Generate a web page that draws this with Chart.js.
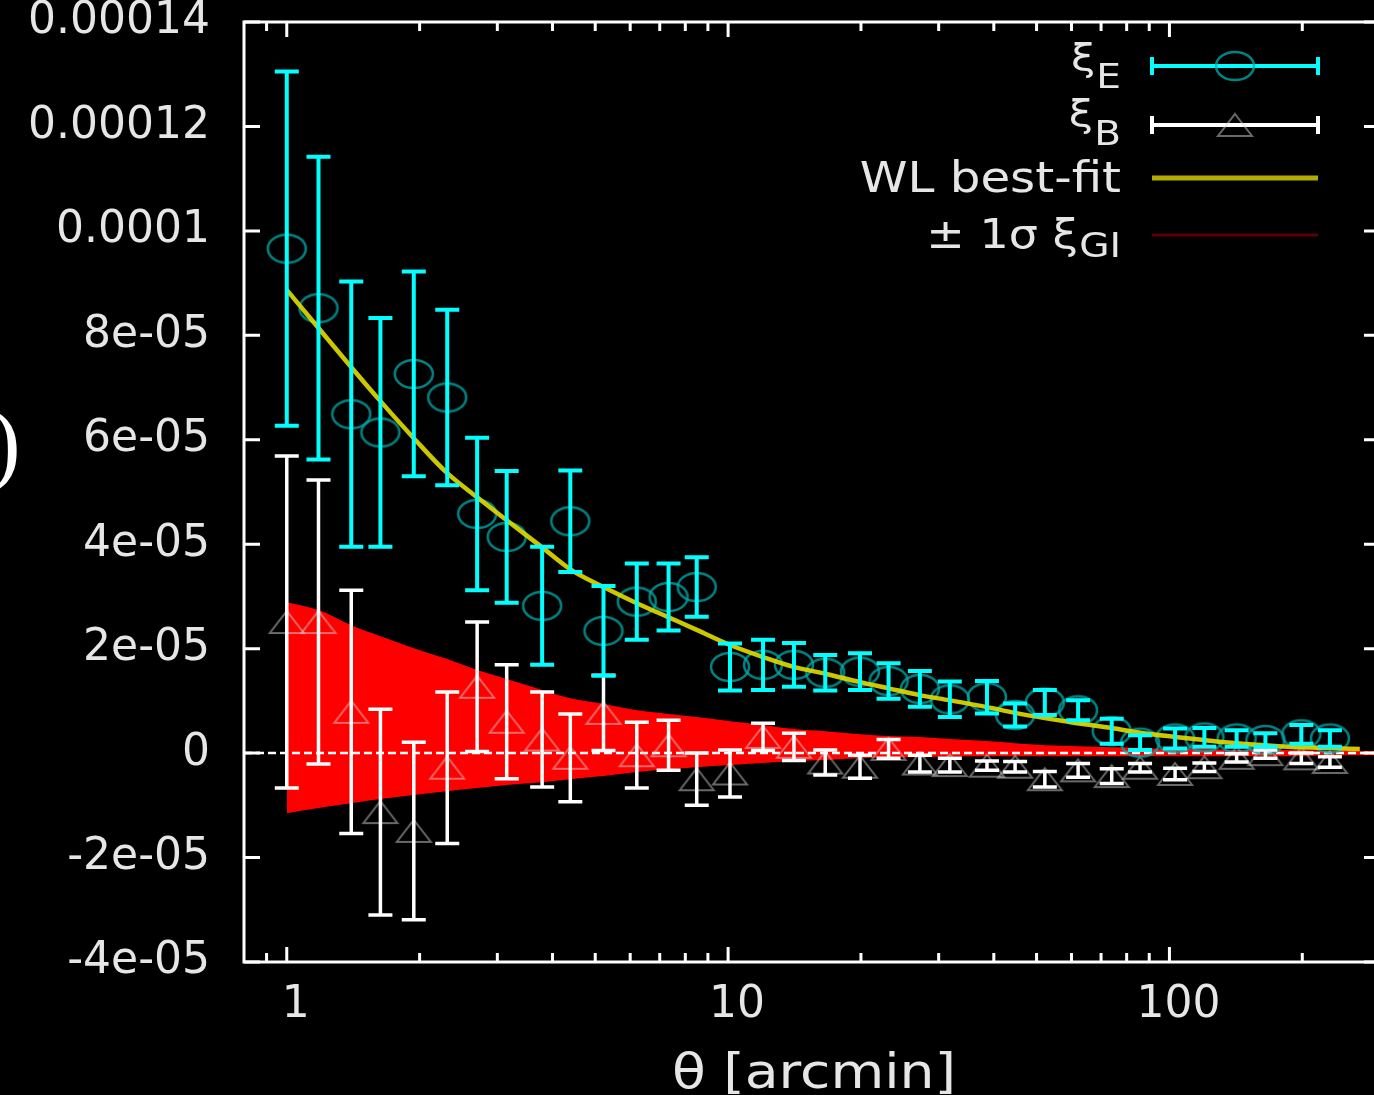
<!DOCTYPE html>
<html>
<head>
<meta charset="utf-8">
<script src="https://cdn.jsdelivr.net/npm/chart.js@4.4.1/dist/chart.umd.min.js"></script>
<style>
  html, body { margin: 0; padding: 0; background: #000; overflow: hidden; }
  #wrap { position: relative; width: 1392px; height: 1095px; }
</style>
</head>
<body>
<div id="wrap"><canvas id="xi"></canvas></div>
<script>
// angular bins [arcmin]
const theta = [1.00, 1.18, 1.40, 1.63, 1.94, 2.31, 2.70, 3.15, 3.79, 4.39,
    5.22, 6.21, 7.33, 8.49, 10.1, 12.0, 14.1, 16.6, 19.9, 23.1,
    27.2, 31.8, 38.6, 44.7, 52.2, 62.1, 74.0, 85.8, 103, 120,
    142, 165, 199, 231];

// E-mode shear correlation and its error
const xiE = [9.66e-5, 8.52e-5, 6.49e-5, 6.14e-5, 7.26e-5, 6.81e-5, 4.58e-5, 4.14e-5, 2.82e-5, 4.44e-5,
    2.34e-5, 2.90e-5, 2.99e-5, 3.18e-5, 1.65e-5, 1.69e-5, 1.69e-5, 1.54e-5, 1.56e-5, 1.38e-5,
    1.23e-5, 1.03e-5, 1.07e-5, 7.3e-6, 9.7e-6, 8.2e-6, 4.2e-6, 2.0e-6, 2.8e-6, 3.0e-6,
    2.8e-6, 2.5e-6, 3.6e-6, 2.8e-6];
const xiEErr = [3.39e-5, 2.90e-5, 2.54e-5, 2.19e-5, 1.96e-5, 1.68e-5, 1.46e-5, 1.26e-5, 1.13e-5, 9.7e-6,
    8.6e-6, 7.3e-6, 6.4e-6, 5.7e-6, 4.5e-6, 4.8e-6, 4.2e-6, 3.4e-6, 3.5e-6, 3.4e-6,
    3.4e-6, 3.4e-6, 3.1e-6, 2.2e-6, 2.4e-6, 1.9e-6, 2.4e-6, 1.4e-6, 1.9e-6, 1.8e-6,
    1.6e-6, 1.3e-6, 1.8e-6, 1.6e-6];

// B-mode shear correlation and its error
const xiB = [2.51e-5, 2.51e-5, 7.9e-6, -1.13e-5, -1.49e-5, -2.8e-6, 1.27e-5, 6.0e-6, 2.6e-6, -9e-7,
    7.7e-6, -4e-7, 1.5e-6, -5.0e-6, -3.9e-6, 3.1e-6, 1.2e-6, -1.8e-6, -2.6e-6, 8e-7,
    -2.0e-6, -2.3e-6, -2.4e-6, -2.6e-6, -5.0e-6, -3.3e-6, -4.4e-6, -2.8e-6, -4.0e-6, -2.7e-6,
    -9e-7, -2e-7, -1.0e-6, -1.7e-6];
const xiBErr = [3.18e-5, 2.72e-5, 2.33e-5, 1.97e-5, 1.70e-5, 1.45e-5, 1.24e-5, 1.09e-5, 9.1e-6, 8.4e-6,
    7.2e-6, 6.3e-6, 4.8e-6, 5.0e-6, 4.5e-6, 2.6e-6, 2.6e-6, 2.4e-6, 2.2e-6, 1.8e-6,
    1.6e-6, 1.3e-6, 9e-7, 1.0e-6, 1.5e-6, 1.3e-6, 1.4e-6, 8e-7, 1.1e-6, 8e-7,
    8e-7, 8e-7, 1.0e-6, 1.0e-6];

// weak-lensing best-fit model
const fitTheta = theta.concat([270]);
const fitXi = [8.87e-5, 8.14e-5, 7.39e-5, 6.74e-5, 6.03e-5, 5.36e-5, 4.90e-5, 4.46e-5, 3.94e-5, 3.52e-5,
    3.18e-5, 2.87e-5, 2.60e-5, 2.36e-5, 2.07e-5, 1.84e-5, 1.65e-5, 1.52e-5, 1.36e-5, 1.24e-5,
    1.11e-5, 1.01e-5, 8.8e-6, 7.7e-6, 6.7e-6, 5.7e-6, 4.8e-6, 3.9e-6, 3.1e-6, 2.5e-6,
    1.9e-6, 1.5e-6, 1.1e-6, 9.6e-7, 7.7e-7];

// +/- 1 sigma envelope of the GI term
const giTheta = theta.concat([300]);
const giUpper = [2.89e-5, 2.74e-5, 2.45e-5, 2.24e-5, 2.01e-5, 1.80e-5, 1.59e-5, 1.42e-5, 1.21e-5, 1.05e-5,
    9.4e-6, 8.2e-6, 7.5e-6, 6.9e-6, 6.1e-6, 5.4e-6, 4.6e-6, 4.2e-6, 3.6e-6, 3.3e-6,
    3.1e-6, 2.7e-6, 2.3e-6, 1.9e-6, 1.5e-6, 1.3e-6, 1.1e-6, 1.0e-6, 8e-7, 8e-7,
    6e-7, 6e-7, 6e-7, 4e-7, 4e-7];
const giLower = [-1.15e-5, -1.05e-5, -9.6e-6, -8.8e-6, -8.0e-6, -7.3e-6, -6.7e-6, -6.1e-6, -5.6e-6, -5.0e-6,
    -4.4e-6, -3.6e-6, -3.1e-6, -2.7e-6, -2.3e-6, -1.9e-6, -1.5e-6, -1.3e-6, -1.0e-6, -8e-7,
    -8e-7, -6e-7, -6e-7, -6e-7, -6e-7, -6e-7, -6e-7, -6e-7, -6e-7, -6e-7,
    -6e-7, -6e-7, -6e-7, -4e-7, -4e-7];

// axis ticks
const xTicks = [1, 10, 100];
const xTickLabels = ['1', '10', '100'];
const xMinorTicks = [0.9, 2, 3, 4, 5, 6, 7, 8, 9, 20, 30, 40, 50, 60, 70, 80, 90, 200];
const yTicks = [-4e-5, -2e-5, 0, 2e-5, 4e-5, 6e-5, 8e-5, 1e-4, 1.2e-4, 1.4e-4];
const yTickLabels = ['-4e-05', '-2e-05', '0', '2e-05', '4e-05', '6e-05', '8e-05', '0.0001', '0.00012', '0.00014'];


const FONT = '"DejaVu Sans", sans-serif';
const TEXT = '#e6e6e6';
const CYAN = '#00ffff';
const FIT = 'rgba(222, 216, 0, 0.92)';


function ringMarker() {
    const c = document.createElement('canvas');
    c.width = 46;
    c.height = 36;
    const g = c.getContext('2d');
    g.strokeStyle = 'rgba(0, 175, 175, 0.75)';
    g.lineWidth = 2.5;
    g.beginPath();
    g.ellipse(23, 18, 19, 14, 0, 0, Math.PI * 2);
    g.stroke();
    return c;
}

function triangleMarker() {
    const c = document.createElement('canvas');
    c.width = 42;
    c.height = 30;
    const g = c.getContext('2d');
    g.strokeStyle = 'rgba(210, 210, 210, 0.5)';
    g.lineWidth = 2;
    g.beginPath();
    g.moveTo(21, 4);
    g.lineTo(38, 26);
    g.lineTo(4, 26);
    g.closePath();
    g.stroke();
    return c;
}

const ring = ringMarker();
const tri = triangleMarker();


function errorBars(chart, values, errs, color, width) {
    const { ctx, scales: { x, y } } = chart;
    ctx.save();
    ctx.strokeStyle = color;
    ctx.lineWidth = width;
    theta.forEach((t, i) => {
        const px = x.getPixelForValue(t);
        const top = y.getPixelForValue(values[i] + errs[i]);
        const bot = y.getPixelForValue(values[i] - errs[i]);
        ctx.beginPath();
        ctx.moveTo(px, top);
        ctx.lineTo(px, bot);
        ctx.moveTo(px - 12, top);
        ctx.lineTo(px + 12, top);
        ctx.moveTo(px - 12, bot);
        ctx.lineTo(px + 12, bot);
        ctx.stroke();
    });
    ctx.restore();
}

// text drawn slightly wide, the way the terminal font renders
function wideText(ctx, text, x, y, size, align, sx = 1.15) {
    ctx.save();
    ctx.font = size + 'px ' + FONT;
    ctx.fillStyle = TEXT;
    ctx.textAlign = align;
    ctx.textBaseline = 'alphabetic';
    ctx.translate(x, y);
    ctx.scale(sx, 1);
    ctx.fillText(text, 0, 0);
    const w = ctx.measureText(text).width * sx;
    ctx.restore();
    return w;
}

function legendBar(ctx, y, color, marker) {
    const x1 = 1152, x2 = 1318;
    ctx.save();
    ctx.strokeStyle = color;
    ctx.lineWidth = 4;
    ctx.beginPath();
    ctx.moveTo(x1, y);
    ctx.lineTo(x2, y);
    ctx.moveTo(x1, y - 9);
    ctx.lineTo(x1, y + 9);
    ctx.moveTo(x2, y - 9);
    ctx.lineTo(x2, y + 9);
    ctx.stroke();
    ctx.drawImage(marker, (x1 + x2) / 2 - marker.width / 2, y - marker.height / 2);
    ctx.restore();
}

function legendLine(ctx, y, color, width) {
    ctx.save();
    ctx.strokeStyle = color;
    ctx.lineWidth = width;
    ctx.beginPath();
    ctx.moveTo(1152, y);
    ctx.lineTo(1318, y);
    ctx.stroke();
    ctx.restore();
}


const gnuplotFrame = {
    id: 'gnuplotFrame',

    afterDatasetDraw(chart, args) {
        // dashed zero axis over the GI envelope
        if (args.index !== 1) return;
        const { ctx, chartArea, scales: { y } } = chart;
        const y0 = y.getPixelForValue(0);
        ctx.save();
        ctx.strokeStyle = '#ffffff';
        ctx.lineWidth = 2.5;
        ctx.setLineDash([8, 4]);
        ctx.beginPath();
        ctx.moveTo(chartArea.left, y0);
        ctx.lineTo(chartArea.right, y0);
        ctx.stroke();
        ctx.restore();
    },

    afterDatasetsDraw(chart) {
        errorBars(chart, xiB, xiBErr, '#ffffff', 3.5);
        errorBars(chart, xiE, xiEErr, CYAN, 4);
    },

    afterDraw(chart) {
        const { ctx, chartArea: a, scales: { x, y } } = chart;

        ctx.save();
        ctx.strokeStyle = '#ffffff';
        ctx.lineWidth = 3;
        ctx.strokeRect(a.left, a.top, a.right - a.left, a.bottom - a.top);

        ctx.beginPath();
        xTicks.forEach(v => {
            const px = x.getPixelForValue(v);
            ctx.moveTo(px, a.bottom);
            ctx.lineTo(px, a.bottom - 15);
            ctx.moveTo(px, a.top);
            ctx.lineTo(px, a.top + 15);
        });
        xMinorTicks.forEach(v => {
            const px = x.getPixelForValue(v);
            ctx.moveTo(px, a.bottom);
            ctx.lineTo(px, a.bottom - 9);
            ctx.moveTo(px, a.top);
            ctx.lineTo(px, a.top + 9);
        });
        yTicks.forEach(v => {
            const py = y.getPixelForValue(v);
            ctx.moveTo(a.left, py);
            ctx.lineTo(a.left + 16, py);
            ctx.moveTo(a.right, py);
            ctx.lineTo(a.right - 16, py);
        });
        ctx.stroke();
        ctx.restore();

        // axis title
        wideText(ctx, 'θ [arcmin]', 814, 1088, 48, 'center');

        // tail of the y label
        ctx.save();
        ctx.font = '92px "Liberation Serif", serif';
        ctx.fillStyle = '#ffffff';
        ctx.fillText(')', -10, 473);
        ctx.restore();

        // key
        const right = 1121;
        let w = wideText(ctx, 'E', right, 88, 34, 'right');
        wideText(ctx, 'ξ', right - w - 1, 70, 38, 'right');
        legendBar(ctx, 66, CYAN, ring);

        w = wideText(ctx, 'B', right, 145, 34, 'right');
        wideText(ctx, 'ξ', right - w - 1, 126, 38, 'right');
        legendBar(ctx, 125, '#ffffff', tri);

        wideText(ctx, 'WL best-fit', right, 192, 42, 'right');
        legendLine(ctx, 178, '#b4ab00', 5);

        w = wideText(ctx, 'GI', right, 257, 34, 'right');
        wideText(ctx, '± 1σ ξ', right - w - 1, 248, 40, 'right');
        legendLine(ctx, 235, '#5c0000', 3);
    }
};


new Chart(document.getElementById('xi'), {
    type: 'line',
    data: {
        datasets: [
            {
                data: giTheta.map((t, i) => ({ x: t, y: giUpper[i] })),
                backgroundColor: '#ff0000',
                borderWidth: 0,
                pointRadius: 0,
                cubicInterpolationMode: 'monotone',
                fill: '+1',
                order: 6
            },
            {
                data: giTheta.map((t, i) => ({ x: t, y: giLower[i] })),
                borderWidth: 0,
                pointRadius: 0,
                cubicInterpolationMode: 'monotone',
                fill: false,
                order: 5
            },
            {
                data: theta.map((t, i) => ({ x: t, y: xiB[i] })),
                showLine: false,
                pointStyle: tri,
                order: 4
            },
            {
                data: theta.map((t, i) => ({ x: t, y: xiE[i] })),
                showLine: false,
                pointStyle: ring,
                order: 3
            },
            {
                data: fitTheta.map((t, i) => ({ x: t, y: fitXi[i] })),
                borderColor: FIT,
                borderWidth: 4.5,
                pointRadius: 0,
                cubicInterpolationMode: 'monotone',
                fill: false,
                order: 2
            }
        ]
    },
    options: {
        responsive: true,
        maintainAspectRatio: false,
        animation: false,
        layout: {
            padding: { top: 22, right: 12, bottom: 0, left: 0 }
        },
        plugins: {
            legend: { display: false },
            tooltip: { enabled: false }
        },
        scales: {
            x: {
                type: 'logarithmic',
                min: 0.8,
                max: 300,
                afterBuildTicks: axis => {
                    axis.ticks = xTicks.map(v => ({ value: v }));
                },
                afterFit: axis => {
                    axis.height = 133;
                    axis.paddingLeft = 0;
                    axis.paddingRight = 0;
                },
                grid: { display: false, drawTicks: false },
                border: { display: false },
                ticks: {
                    color: TEXT,
                    font: { family: FONT, size: 44, lineHeight: 0.9 },
                    padding: 24,
                    labelOffset: 9,
                    maxRotation: 0,
                    autoSkip: false,
                    callback: (v, i) => xTickLabels[i]
                }
            },
            y: {
                min: -4e-5,
                max: 1.4e-4,
                afterBuildTicks: axis => {
                    axis.ticks = yTicks.map(v => ({ value: v }));
                },
                afterFit: axis => {
                    axis.width = 244;
                    axis.paddingTop = 0;
                    axis.paddingBottom = 0;
                },
                grid: { display: false, drawTicks: false },
                border: { display: false },
                ticks: {
                    color: TEXT,
                    font: { family: FONT, size: 44, lineHeight: 0.9 },
                    padding: 34,
                    autoSkip: false,
                    callback: (v, i) => yTickLabels[i]
                }
            }
        }
    },
    plugins: [gnuplotFrame]
});
</script>
</body>
</html>
